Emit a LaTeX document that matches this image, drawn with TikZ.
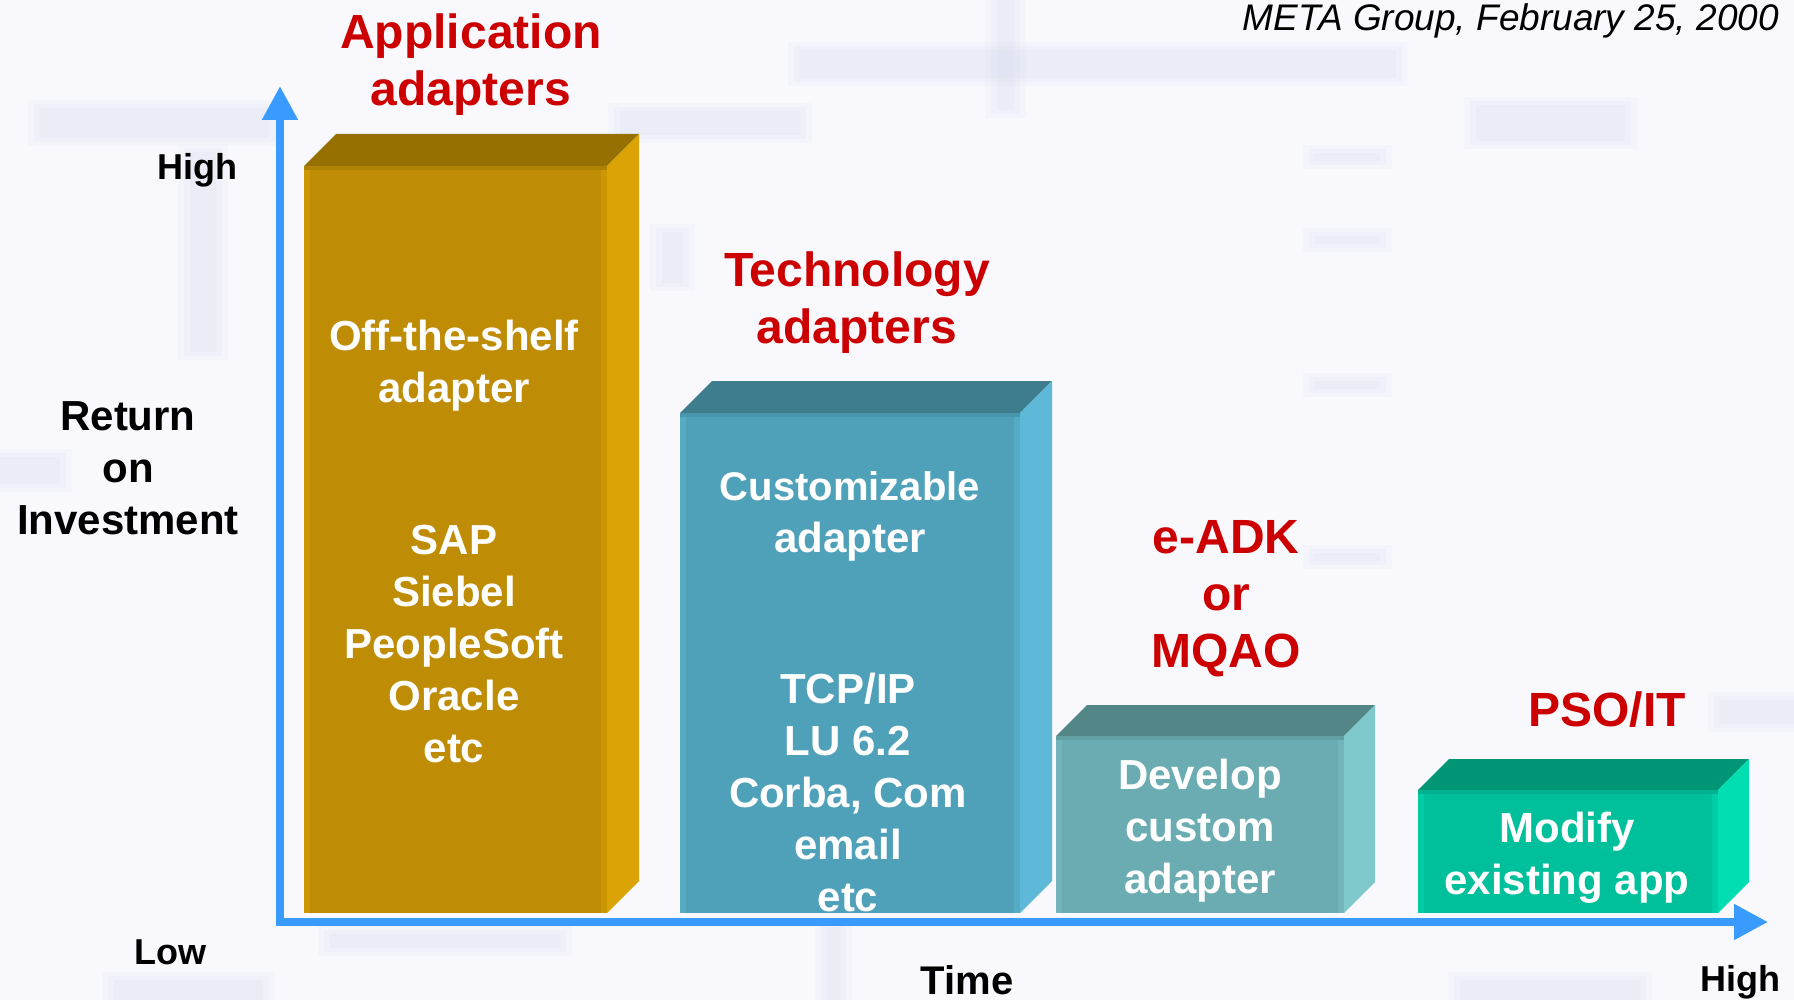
\documentclass[tikz,border=0pt]{standalone}
\usepackage{fontspec}
\setmainfont{Liberation Sans}
\usetikzlibrary{arrows.meta}
\definecolor{bgc}{HTML}{F8F8FD}
\definecolor{streakc}{HTML}{D8DCEE}
\definecolor{axisc}{HTML}{3A9BFF}
\definecolor{redc}{HTML}{CC0000}
% gold box
\definecolor{gfront}{HTML}{BF8C05}
\definecolor{gtop}{HTML}{967000}
\definecolor{gside}{HTML}{DBA306}
\definecolor{gstrip}{HTML}{CD9703}
\definecolor{gtopstrip}{HTML}{B08203}
% teal box
\definecolor{tfront}{HTML}{4FA1B9}
\definecolor{ttop}{HTML}{3E7D8D}
\definecolor{tside}{HTML}{5DB9D7}
\definecolor{tstrip}{HTML}{55AAC4}
\definecolor{ttopstrip}{HTML}{4896AD}
% grey-teal box
\definecolor{cfront}{HTML}{6AACB1}
\definecolor{ctop}{HTML}{538686}
\definecolor{cside}{HTML}{7FC8CC}
\definecolor{cstrip}{HTML}{72B6BA}
\definecolor{ctopstrip}{HTML}{62A0A4}
% green box
\definecolor{mfront}{HTML}{00C09B}
\definecolor{mtop}{HTML}{009675}
\definecolor{mside}{HTML}{00DDB1}
\definecolor{mstrip}{HTML}{00CCA6}
\definecolor{mtopstrip}{HTML}{00B08E}
% box: #1 left, #2 top, #3 right, #4 bottom, #5 depth, #6 colour prefix
\newcommand\adbox[6]{%
  \fill[#6top] (#1,#2) -- (#1+#5,#2-#5) -- (#3+#5,#2-#5) -- (#3,#2) -- cycle;
  \fill[#6side] (#3,#2) -- (#3+#5,#2-#5) -- (#3+#5,#4-#5) -- (#3,#4) -- cycle;
  \fill[#6front] (#1,#2) rectangle (#3,#4);
  \fill[#6strip] (#1,#2) rectangle (#1+6,#4);
  \fill[#6strip] (#3-6,#2) rectangle (#3,#4);
  \fill[#6topstrip] (#1,#2) rectangle (#3,#2+4);
}
% soft streak: #1 x1, #2 y1, #3 x2, #4 y2
\newcommand\softstreak[4]{%
  \fill[streakc,opacity=0.12] (#1-12,#2-8) rectangle (#3+12,#4+8);
  \fill[streakc,opacity=0.15] (#1-6,#2-4) rectangle (#3+6,#4+4);
  \fill[streakc,opacity=0.2] (#1,#2) rectangle (#3,#4);
}
\begin{document}
\begin{tikzpicture}[x=1pt,y=-1pt,
  axisline/.style={draw=axisc,line width=8pt,-{Triangle[length=34pt,width=34pt]}},
  redlbl/.style={text=redc,font=\fontsize{48}{57}\selectfont\bfseries,align=center,inner sep=0pt},
  whitelbl/.style={text=white,font=\fontsize{42}{52}\selectfont\bfseries,align=center,inner sep=0pt},
  blacklbl/.style={text=black,font=\fontsize{36}{44}\selectfont\bfseries,align=center,inner sep=0pt}]
\useasboundingbox (0,0) rectangle (1794,1000);
\fill[bgc] (0,0) rectangle (1794,1000);
% faint background streaks
\softstreak{40}{108}{269}{138}
\softstreak{190}{152}{216}{352}
\softstreak{0}{457}{60}{484}
\softstreak{800}{50}{1396}{78}
\softstreak{997}{0}{1014}{110}
\softstreak{620}{111}{800}{135}
\softstreak{1476}{105}{1625}{141}
\softstreak{114}{980}{263}{1000}
\softstreak{1460}{980}{1640}{1000}
\softstreak{330}{934}{560}{948}
\softstreak{1720}{700}{1794}{724}
\softstreak{827}{927}{840}{1000}
\softstreak{1315}{153}{1380}{161}
\softstreak{1315}{236}{1380}{244}
\softstreak{1315}{381}{1380}{389}
\softstreak{1315}{553}{1380}{561}
\softstreak{662}{232}{683}{283}
% boxes
\adbox{304}{166}{607}{913}{32}{g}
\adbox{680}{413}{1020}{913}{32}{t}
\adbox{1056}{736}{1344}{913}{31}{c}
\adbox{1418}{790}{1718}{913}{31}{m}
% axes
\coordinate (yo) at (280,921);
\coordinate (yt) at (280,86);
\coordinate (xo) at (276,922);
\coordinate (xt) at (1768,922);
\draw[axisline] (yo) -- (yt);
\draw[axisline] (xo) -- (xt);
% labels
\node[anchor=east,inner sep=0pt,font=\fontsize{37}{44}\selectfont\itshape] (meta) at (1779,21) {META Group, February 25, 2000};
\node[redlbl] (app) at (471,65) {Application\\adapters};
\node[redlbl] (tech) at (857,303) {Technology\\adapters};
\node[redlbl] (eadk) at (1226,599) {e-ADK\\or\\MQAO};
\node[redlbl] (pso) at (1607,710) {PSO/IT};
\node[blacklbl] (yhigh) at (197,170) {High};
\node[blacklbl,font=\fontsize{42}{52}\selectfont\bfseries] (roi) at (128,468) {Return\\on\\Investment};
\node[blacklbl] (ylow) at (170,952) {Low};
\node[blacklbl,font=\fontsize{40}{48}\selectfont\bfseries] (time) at (967,980) {Time};
\node[blacklbl] (xhigh) at (1740,982) {High};
\node[whitelbl] (b1a) at (454,366) {Off-the-shelf\\adapter};
\node[whitelbl] (b1b) at (454,644) {SAP\\Siebel\\PeopleSoft\\Oracle\\etc};
\node[whitelbl] (b2a) at (850,516) {\fontsize{40}{52}\selectfont Customizable\\adapter};
\node[whitelbl] (b2b) at (848,792) {TCP/IP\\LU 6.2\\Corba, Com\\email\\etc};
\node[whitelbl] (b3) at (1200,831) {Develop\\custom\\adapter};
\node[whitelbl] (b4) at (1567,858) {Modify\\existing app};
\end{tikzpicture}
\end{document}
